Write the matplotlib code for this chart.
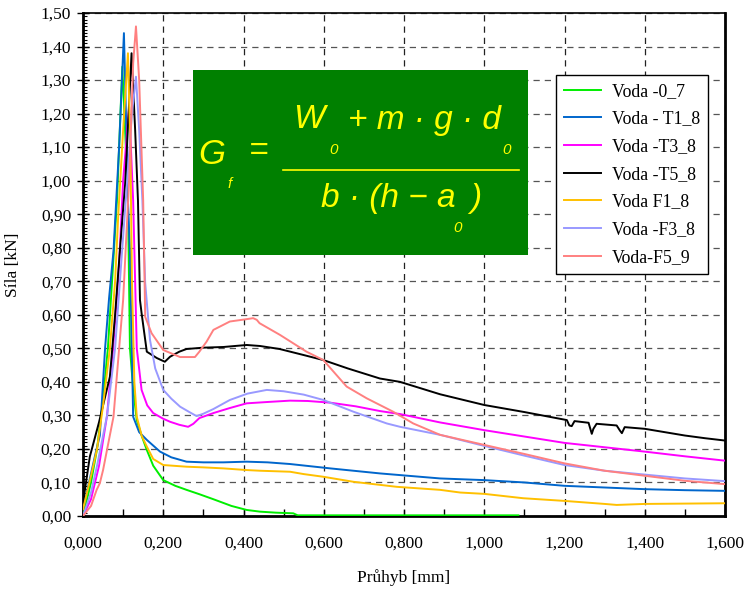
import numpy as np
import matplotlib
matplotlib.use('Agg')
import matplotlib.pyplot as plt
from matplotlib.ticker import MultipleLocator, FuncFormatter
from matplotlib.patches import Rectangle

# data (x = Průhyb [mm], y = Síla [kN])
x_07 = [0, 0.02, 0.035, 0.05, 0.062, 0.075, 0.085, 0.098, 0.105, 0.112, 0.117, 0.125, 0.134, 0.146,
        0.159, 0.175, 0.2, 0.23, 0.258, 0.29, 0.325, 0.37, 0.408, 0.441, 0.48, 0.524, 0.535, 0.6, 0.8, 1.0, 1.085]
y_07 = [0, 0.1, 0.2, 0.35, 0.5, 0.75, 0.95, 1.34, 1.15, 0.94, 0.5, 0.38, 0.286, 0.24,
        0.197, 0.15, 0.107, 0.09, 0.078, 0.065, 0.05, 0.03, 0.018, 0.013, 0.01, 0.008, 0.002, 0.002, 0.002, 0.002, 0.002]

x_t1 = [0, 0.015, 0.03, 0.042, 0.055, 0.065, 0.076, 0.09, 0.102, 0.107, 0.112, 0.117, 0.125, 0.14,
        0.159, 0.175, 0.192, 0.22, 0.258, 0.3, 0.35, 0.408, 0.46, 0.516, 0.616, 0.74, 0.79, 0.89,
        1.0, 1.1, 1.2, 1.3, 1.4, 1.5, 1.6]
y_t1 = [0.02, 0.1, 0.18, 0.24, 0.5, 0.65, 0.79, 1.1, 1.44, 1.2, 0.94, 0.79, 0.296, 0.25,
        0.227, 0.21, 0.192, 0.175, 0.162, 0.16, 0.16, 0.162, 0.16, 0.155, 0.142, 0.127, 0.122, 0.112,
        0.107, 0.1, 0.09, 0.085, 0.08, 0.077, 0.075]

x_t3 = [0, 0.02, 0.04, 0.06, 0.075, 0.09, 0.1, 0.115, 0.125, 0.134, 0.146, 0.16, 0.175, 0.2,
        0.217, 0.24, 0.262, 0.275, 0.29, 0.325, 0.366, 0.408, 0.46, 0.516, 0.56, 0.616, 0.68, 0.74,
        0.79, 0.89, 1.0, 1.1, 1.2, 1.3, 1.4, 1.5, 1.6]
y_t3 = [0, 0.05, 0.15, 0.3, 0.5, 0.75, 1.0, 1.22, 0.94, 0.5, 0.376, 0.33, 0.307, 0.29,
        0.281, 0.272, 0.266, 0.275, 0.292, 0.307, 0.322, 0.336, 0.34, 0.344, 0.343, 0.338, 0.327, 0.313,
        0.304, 0.279, 0.256, 0.237, 0.218, 0.205, 0.192, 0.178, 0.165]

x_t5 = [0, 0.017, 0.04, 0.067, 0.08, 0.092, 0.105, 0.121, 0.13, 0.137, 0.142, 0.146, 0.159, 0.184,
        0.204, 0.217, 0.24, 0.258, 0.3, 0.35, 0.408, 0.441, 0.49, 0.55, 0.599, 0.66, 0.74, 0.79,
        0.89, 1.0, 1.1, 1.206, 1.212, 1.218, 1.225, 1.26, 1.268, 1.272, 1.28, 1.33, 1.338, 1.343,
        1.35, 1.4, 1.45, 1.5, 1.55, 1.6]
y_t5 = [0.04, 0.177, 0.28, 0.415, 0.6, 0.793, 0.99, 1.38, 1.15, 0.94, 0.644, 0.605, 0.49, 0.471,
        0.46, 0.475, 0.49, 0.498, 0.502, 0.504, 0.51, 0.507, 0.498, 0.48, 0.465, 0.44, 0.41, 0.40,
        0.363, 0.331, 0.31, 0.286, 0.27, 0.268, 0.283, 0.278, 0.245, 0.26, 0.275, 0.27, 0.255, 0.247,
        0.265, 0.26, 0.25, 0.24, 0.232, 0.225]

x_f1 = [0, 0.02, 0.035, 0.05, 0.067, 0.08, 0.088, 0.1, 0.112, 0.118, 0.122, 0.128, 0.134, 0.146,
        0.159, 0.175, 0.2, 0.258, 0.3, 0.35, 0.408, 0.441, 0.516, 0.55, 0.599, 0.674, 0.782, 0.89,
        0.94, 1.0, 1.097, 1.2, 1.3, 1.33, 1.4, 1.5, 1.6]
y_f1 = [0.02, 0.12, 0.2, 0.33, 0.5, 0.7, 0.9, 1.15, 1.38, 1.1, 0.7, 0.4, 0.296, 0.24,
        0.207, 0.17, 0.152, 0.147, 0.145, 0.142, 0.137, 0.135, 0.132, 0.125, 0.117, 0.102, 0.087, 0.078,
        0.07, 0.066, 0.053, 0.045, 0.036, 0.033, 0.036, 0.037, 0.038]

x_f3 = [0, 0.02, 0.035, 0.06, 0.08, 0.095, 0.11, 0.122, 0.132, 0.14, 0.148, 0.155, 0.167, 0.18,
        0.2, 0.22, 0.242, 0.265, 0.283, 0.3, 0.325, 0.366, 0.41, 0.458, 0.5, 0.55, 0.599, 0.674,
        0.757, 0.79, 0.89, 1.0, 1.1, 1.2, 1.3, 1.413, 1.5, 1.6]
y_f3 = [0, 0.07, 0.15, 0.3, 0.5, 0.75, 1.0, 1.2, 1.31, 1.15, 0.94, 0.695, 0.525, 0.44,
        0.376, 0.35, 0.326, 0.31, 0.298, 0.305, 0.319, 0.346, 0.365, 0.376, 0.372, 0.362, 0.346, 0.311,
        0.276, 0.266, 0.242, 0.209, 0.18, 0.152, 0.135, 0.122, 0.112, 0.104]

x_f5 = [0, 0.02, 0.034, 0.042, 0.05, 0.076, 0.1, 0.115, 0.125, 0.132, 0.14, 0.15, 0.155, 0.171,
        0.2, 0.242, 0.279, 0.29, 0.308, 0.325, 0.366, 0.408, 0.424, 0.433, 0.44, 0.491, 0.557, 0.599,
        0.657, 0.707, 0.773, 0.823, 0.89, 1.0, 1.1, 1.2, 1.3, 1.4, 1.5, 1.6]
y_f5 = [0, 0.03, 0.078, 0.098, 0.137, 0.296, 0.644, 1.0, 1.35, 1.46, 1.3, 0.94, 0.594, 0.545,
        0.495, 0.474, 0.474, 0.49, 0.52, 0.555, 0.58, 0.587, 0.59, 0.585, 0.575, 0.54, 0.49, 0.465,
        0.386, 0.351, 0.311, 0.276, 0.242, 0.212, 0.185, 0.157, 0.135, 0.12, 0.105, 0.095]

nazvy = ['Voda -0_7', 'Voda - T1_8', 'Voda -T3_8', 'Voda -T5_8', 'Voda F1_8', 'Voda -F3_8', 'Voda-F5_9']
barvy = ['#00ee00', '#0066cc', '#ff00ff', '#000000', '#ffc000', '#9999ff', '#ff8080']
xs = [x_07, x_t1, x_t3, x_t5, x_f1, x_f3, x_f5]
ys = [y_07, y_t1, y_t3, y_t5, y_f1, y_f3, y_f5]

plt.rcParams['font.family'] = ['Liberation Serif', 'DejaVu Serif']
plt.rcParams['font.size'] = 12.5

fig = plt.figure(figsize=(7.55, 5.9), dpi=100)
ax = fig.add_axes([83/755, 1-516/590, 642/755, 503/590])

for x, y, c, n in zip(xs, ys, barvy, nazvy):
    ax.plot(x, y, color=c, lw=1.4, label=n, zorder=3)

ax.set_xlim(0, 1.6)
ax.set_ylim(0, 1.5)
ax.xaxis.set_major_locator(MultipleLocator(0.2))
ax.xaxis.set_minor_locator(MultipleLocator(0.1))
ax.yaxis.set_major_locator(MultipleLocator(0.1))
ax.yaxis.set_minor_locator(MultipleLocator(0.01))
ax.xaxis.set_major_formatter(FuncFormatter(lambda v, p: ('%.3f' % v).replace('.', ',')))
ax.yaxis.set_major_formatter(FuncFormatter(lambda v, p: ('%.2f' % v).replace('.', ',')))
ax.tick_params(axis='x', which='both', direction='in', length=5, width=1, pad=14)
ax.tick_params(axis='y', which='major', direction='inout', length=9, width=1, pad=4)
ax.tick_params(axis='y', which='minor', direction='in', length=3, width=0.8)

# mrizka
ax.grid(True, axis='x', which='major', color='#222222', ls=(0, (5, 4)), lw=0.9)
ax.grid(True, axis='y', which='major', color='#555555', ls=(0, (5, 4)), lw=0.9)
ax.set_axisbelow(True)

for s in ['left', 'bottom', 'right']:
    ax.spines[s].set_linewidth(2)
ax.spines['top'].set_linewidth(1.2)

ax.set_xlabel('Průhyb [mm]', labelpad=13)
ax.set_ylabel('Síla [kN]', labelpad=14)

leg = ax.legend(loc='upper right', bbox_to_anchor=(0.9735, 0.877), borderaxespad=0, fancybox=False,
                framealpha=1, edgecolor='black', handlelength=2.1, labelspacing=0.6, borderpad=0.45,
                handletextpad=0.6, fontsize=12.8)
leg.get_frame().set_linewidth(1)
leg.set_zorder(5)

# zeleny box se vzorcem
ax.add_patch(Rectangle((0.171, 0.519), 0.522, 0.368, transform=ax.transAxes,
                       facecolor='#008000', edgecolor='none', zorder=4))

def px(xp, yp):
    return ((xp - 83) / 642, (516 - yp) / 503)

fk = dict(transform=ax.transAxes, color='#ffff00', family='Liberation Sans', style='italic', zorder=6)
ax.text(*px(212, 155), 'G', fontsize=25, ha='center', va='center', **fk)
ax.text(*px(230, 184), 'f', fontsize=11, ha='center', va='center', **fk)
ax.text(*px(259, 152), '=', fontsize=24, ha='center', va='center', **fk)
ax.text(*px(309, 120), 'W', fontsize=24, ha='center', va='center', **fk)
ax.text(*px(334, 150), '0', fontsize=11, ha='center', va='center', **fk)
ax.text(*px(424, 120), '+ m · g · d', fontsize=24, ha='center', va='center', **fk)
ax.text(*px(507, 150), '0', fontsize=11, ha='center', va='center', **fk)
ax.text(*px(388, 198), 'b · (h − a', fontsize=24, ha='center', va='center', **fk)
ax.text(*px(458, 228), '0', fontsize=11, ha='center', va='center', **fk)
ax.text(*px(476, 198), ')', fontsize=24, ha='center', va='center', **fk)
ax.plot([(283 - 83) / 642, (519 - 83) / 642], [(516 - 170) / 503] * 2, color='#ffff00',
        lw=1.2, transform=ax.transAxes, zorder=6)

fig.savefig('out.png', dpi=100)
